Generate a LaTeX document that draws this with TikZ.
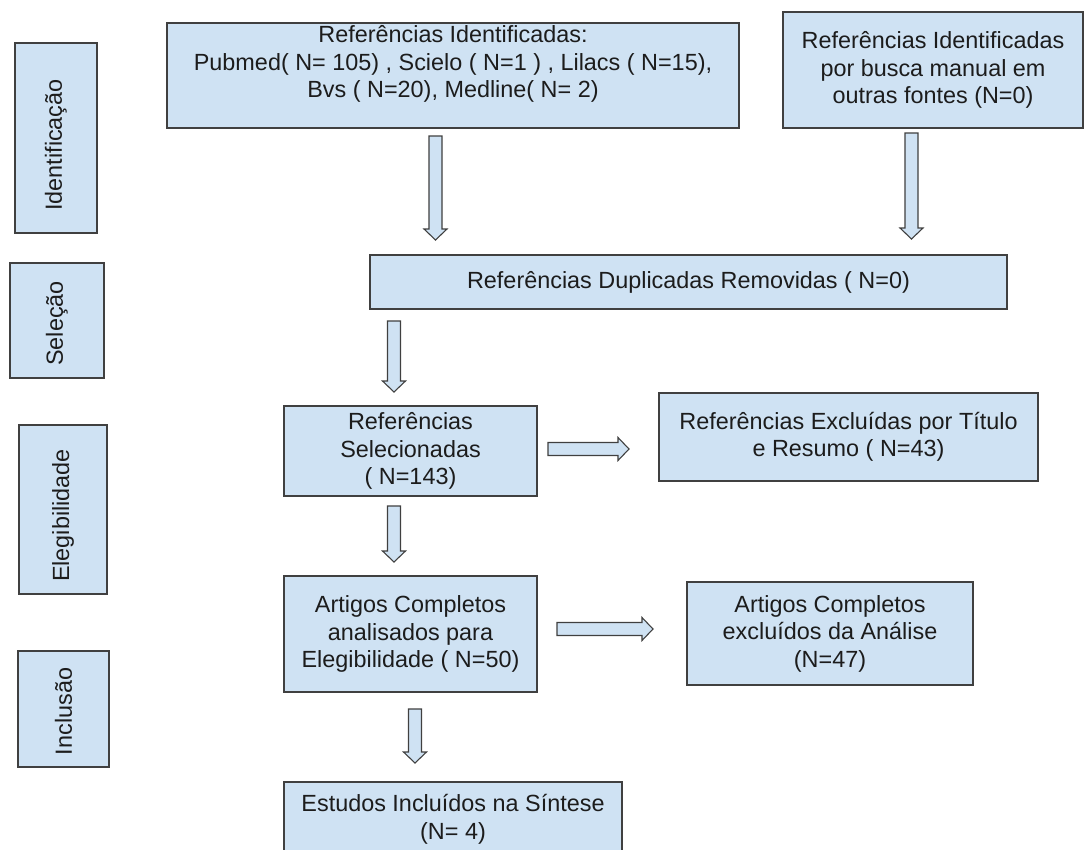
\documentclass[tikz,border=0pt]{standalone}
\usepackage{fontspec}
\setmainfont{Liberation Sans}
\usepackage{tikz}
\usetikzlibrary{calc}
\definecolor{boxblue}{HTML}{CFE2F3}
\definecolor{edgegray}{HTML}{404040}
\definecolor{inkgray}{HTML}{1C1C1C}
\tikzstyle{box}=[
	draw=edgegray,
	fill=boxblue,
	line width=1.2pt,
	inner sep=0pt,
	align=center,
	text=inkgray,
	font=\fontsize{23.4}{27.5}\selectfont
]
\tikzstyle{side}=[
	box,
	rotate=90
]
\tikzstyle{blk}=[
	draw=edgegray,
	fill=boxblue,
	line width=1.1pt,
	line join=miter
]
% hollow block arrow from coordinate #1 to coordinate #2
\newcommand{\blockarrow}[2]{%
	\coordinate (hb) at ($(#2)!11pt!(#1)$);
	\draw[blk] ($(#1)!6.5pt!90:(#2)$) -- ($(hb)!6.5pt!90:(#2)$) -- ($(hb)!11.5pt!90:(#2)$)
		-- (#2) -- ($(hb)!11.5pt!-90:(#2)$) -- ($(hb)!6.5pt!-90:(#2)$) -- ($(#1)!6.5pt!-90:(#2)$) -- cycle;
}
\begin{document}
\begin{tikzpicture}[x=1pt, y=-1pt]
\clip (0,0) rectangle (1084,849);
\fill[white] (0,0) rectangle (1084,849);

% stage labels (text sits a little low in its box)
\node[side, minimum width=190, minimum height=82] at (56,138) (lident) {Identificação\kern14pt};
\node[side, minimum width=115, minimum height=94] at (57,320.5) (lsel) {Seleção\kern6pt};
\node[side, minimum width=169, minimum height=88] at (63,509.5) (lelig) {Elegibilidade\kern12pt};
\node[side, minimum width=116, minimum height=91] at (63.5,709) (lincl) {Inclusão\kern5pt};

% flow boxes
\node[box, minimum width=572, minimum height=105] at (453,75.5) (refs)
	{Referências Identificadas:\\ Pubmed( N= 105) , Scielo ( N=1 ) , Lilacs ( N=15),\\ Bvs ( N=20), Medline( N= 2)\\ \mbox{}};
\node[box, minimum width=300, minimum height=116] at (933,70) (manual)
	{Referências Identificadas\\ por busca manual em\\ outras fontes (N=0)};
\node[box, minimum width=637, minimum height=54] at (688.5,282) (dupl)
	{Referências Duplicadas Removidas ( N=0)};
\node[box, minimum width=253, minimum height=90] at (410.5,451) (sel)
	{Referências\\ Selecionadas\\ ( N=143)};
\node[box, minimum width=379, minimum height=88] at (848.5,437) (excl)
	{Referências Excluídas por Título\\ e Resumo ( N=43)};
\node[box, minimum width=253, minimum height=116] at (410.5,634) (full)
	{Artigos Completos\\ analisados para\\ Elegibilidade ( N=50)};
\node[box, minimum width=286, minimum height=103] at (830,633.5) (fullexcl)
	{Artigos Completos\\ excluídos da Análise\\ (N=47)};
\node[box, minimum width=338, minimum height=75] at (453,819.5) (incl)
	{Estudos Incluídos na Síntese\\ (N= 4)};

% arrow ends
\coordinate (a1s) at (435.5,136);
\coordinate (a1t) at (435.5,240);
\coordinate (a2s) at (911.5,133);
\coordinate (a2t) at (911.5,239);
\coordinate (a3s) at (394,321);
\coordinate (a3t) at (394,392);
\coordinate (a4s) at (394,506);
\coordinate (a4t) at (394,562);
\coordinate (a5s) at (415,709);
\coordinate (a5t) at (415,763);
\coordinate (r1s) at (548,449);
\coordinate (r1t) at (629,449);
\coordinate (r2s) at (557,629);
\coordinate (r2t) at (653,629);

\foreach \s/\t in {a1s/a1t, a2s/a2t, a3s/a3t, a4s/a4t, a5s/a5t, r1s/r1t, r2s/r2t}{
	\blockarrow{\s}{\t}
}
\end{tikzpicture}
\end{document}
